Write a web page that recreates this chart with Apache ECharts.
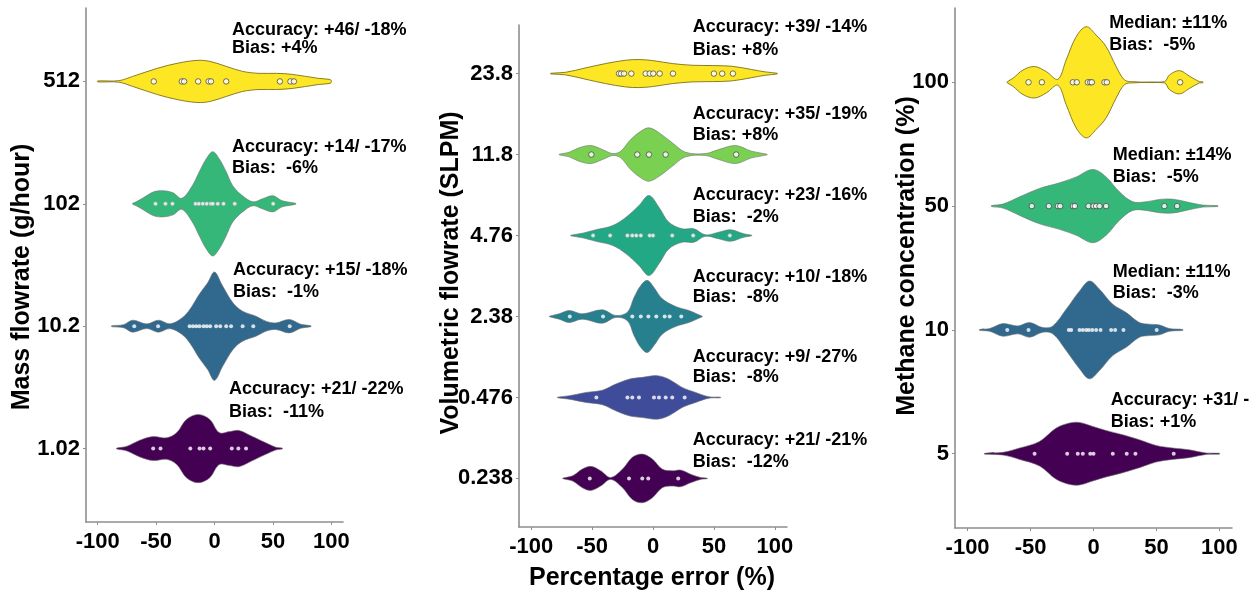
<!DOCTYPE html>
<html>
<head>
<meta charset="utf-8">
<script src="https://cdn.jsdelivr.net/npm/echarts@6/dist/echarts.min.js"></script>
<style>
html,body{margin:0;padding:0;background:#fff;}
#chart{width:1260px;height:598px;}
</style>
</head>
<body>
<div id="chart"></div>
<script>
// ---------------- DATA (index 0 = bottom category) ----------------
const xTicks = [-100, -50, 0, 50, 100];

const p1Categories = ['1.02', '10.2', '102', '512'];
const p2Categories = ['0.238', '0.476', '2.38', '4.76', '11.8', '23.8'];
const p3Categories = ['5', '10', '50', '100'];

// individual measurements (percentage error)
const p1Points = [
  [-52.5, -46.2, -20.7, -12.8, -9.4, -3.7, 14.8, 20.4, 27],
  [-68.7, -48.3, -21.3, -18.4, -15.6, -12.8, -9.4, -6.6, -3.7, 1.4, 4.9, 10, 14.2, 24.1, 33.2, 64.4],
  [-50.5, -42, -36, -16.2, -13.4, -10, -6.6, -3.1, -1.4, 2.8, 7.7, 17.3, 50.2],
  [-52, -28, -26, -14, -5, -3, 10, 56, 65, 68]
];
const p2Points = [
  [-51.9, -19.7, -8.8, -3.9, 20.7],
  [-46.5, -21, -17, -11.5, 0.8, 4.9, 10.4, 15.8, 26],
  [-68.3, -41, -17, -10, -3.8, 2.7, 9.6, 13.7, 23.2],
  [-49.2, -35.2, -21, -17, -13.7, -10, -2.7, 0, 15.8, 33, 63.1],
  [-50.6, -12.9, -3.3, 10.4, 68.3],
  [-27.9, -26.2, -23.8, -17.8, -6, -2.7, 0.2, 5.5, 16.4, 50, 56.8, 65.6]
];
const p3Points = [
  [-46.8, -20.9, -12.5, -8.5, -2.6, 0, 15.3, 26.4, 33.3, 63.7],
  [-68.5, -51.6, -19.6, -17.7, -11.1, -8.5, -5.8, -3.7, -1, 2.1, 5.6, 14, 17.2, 23.8, 50.2],
  [-49, -35.5, -28.3, -26.4, -16.4, -14.8, -4, 0, 2.1, 4.8, 10, 56.3, 66.4],
  [-51.6, -41, -16.4, -13.3, -4.5, -2.6, -1.3, 8.7, 10.6, 68.8]
];

// violin density profiles: [percentage error, half-width in category units]
const p1Density = [
  [[-83.7,0.004],[-75,0.019],[-64,0.068],[-52.5,0.098],[-41,0.088],[-32.5,0.129],[-24,0.238],[-14,0.279],[-4,0.238],[4,0.131],[13,0.139],[21,0.148],[32.6,0.098],[44,0.047],[52.5,0.011],[58,0.004]],
  [[-88,0.004],[-78,0.012],[-70,0.049],[-58,0.019],[-48,0.049],[-38,0.02],[-28,0.066],[-21,0.139],[-13,0.262],[-6,0.352],[0,0.443],[7,0.328],[16,0.189],[24,0.123],[35.5,0.082],[44,0.041],[52.5,0.027],[64,0.055],[74,0.016],[82.5,0.004]],
  [[-70,0.004],[-67,0.016],[-61,0.049],[-52,0.098],[-44,0.107],[-35.5,0.09],[-28,0.045],[-19,0.148],[-13,0.262],[-7,0.369],[-1.5,0.426],[4,0.369],[10,0.262],[15.6,0.148],[24,0.066],[33,0.016],[41,0.041],[50,0.066],[58,0.025],[69.5,0.004]],
  [[-100,0.004],[-82,0.006],[-70,0.041],[-49,0.107],[-32,0.148],[-15,0.172],[-4,0.164],[10,0.123],[24,0.082],[38,0.066],[53,0.066],[67,0.057],[89,0.025],[99,0.016],[100,0.004]]
];
const p2Density = [
  [[-74,0.004],[-66,0.033],[-58,0.115],[-51,0.149],[-43,0.095],[-34.7,0.012],[-25,0.115],[-17,0.26],[-8.8,0.301],[-0.5,0.239],[7.6,0.115],[15.8,0.095],[22.7,0.103],[30.9,0.053],[39,0.012],[44.5,0.004]],
  [[-78.4,0.004],[-68.9,0.021],[-55,0.062],[-41.5,0.09],[-30.6,0.165],[-19.7,0.226],[-8.8,0.248],[3.5,0.269],[13,0.226],[24,0.124],[35,0.062],[46,0.009],[55.5,0.004]],
  [[-85,0.004],[-77,0.033],[-68.9,0.074],[-58,0.033],[-41.5,0.083],[-30.6,0.012],[-21,0.053],[-15.6,0.235],[-10,0.384],[-4.7,0.446],[0.8,0.359],[7.6,0.219],[18.6,0.124],[29.5,0.074],[37.7,0.021],[40.4,0.004]],
  [[-67.5,0.004],[-58,0.028],[-47,0.071],[-33,0.124],[-22.4,0.223],[-11.5,0.371],[-3.3,0.495],[5,0.347],[13,0.165],[24,0.083],[33.6,0.083],[43,0.009],[54,0.041],[63.7,0.071],[74.6,0.021],[81,0.004]],
  [[-77,0.004],[-68.9,0.028],[-60.7,0.083],[-51,0.111],[-41.5,0.062],[-33,0.012],[-26.5,0.041],[-18.3,0.186],[-10,0.288],[-3.3,0.33],[5,0.269],[15.8,0.145],[26.8,0.028],[43,0.012],[54,0.062],[67.8,0.111],[81,0.041],[93.7,0.004]],
  [[-84,0.004],[-71.6,0.016],[-55,0.071],[-38.8,0.124],[-22.4,0.165],[-11.5,0.173],[-0.5,0.161],[15.8,0.124],[32,0.103],[48.6,0.099],[65,0.09],[81,0.05],[92,0.021],[102,0.004]]
];
const p3Density = [
  [[-86.5,0.004],[-72,0.011],[-58.7,0.046],[-42.9,0.099],[-29.6,0.207],[-19,0.248],[-11,0.252],[-0.5,0.22],[10,0.188],[23.3,0.153],[36.5,0.113],[49.8,0.067],[63,0.046],[76,0.032],[89.4,0.006],[100,0.004]],
  [[-90.5,0.004],[-82.5,0.011],[-72,0.051],[-60,0.032],[-50.8,0.059],[-40.2,0.019],[-32.3,0.032],[-21.7,0.167],[-11,0.315],[-3.2,0.395],[4.8,0.328],[15.3,0.207],[26,0.14],[36.5,0.059],[44.4,0.046],[52.4,0.04],[60.3,0.011],[70.9,0.004]],
  [[-81,0.004],[-72,0.016],[-58.7,0.075],[-42.9,0.143],[-27,0.188],[-13.7,0.236],[-0.5,0.296],[10,0.236],[20.6,0.115],[31.2,0.035],[41.8,0.035],[52.4,0.054],[63,0.056],[73.5,0.035],[86.8,0.008],[98.7,0.004]],
  [[-68.5,0.004],[-64,0.032],[-56,0.099],[-46.8,0.127],[-37.5,0.086],[-28.3,0.024],[-21.7,0.18],[-13.7,0.369],[-5.8,0.449],[2.1,0.381],[10,0.288],[18,0.127],[24.6,0.019],[31.2,0.005],[56.3,0.005],[60.3,0.059],[68.3,0.094],[76,0.051],[84,0.005],[86.8,0.004]]
];

// annotation texts (top to bottom per panel)
const p1Notes = [
  ['Accuracy: +46/ -18%', 'Bias: +4%'],
  ['Accuracy: +14/ -17%', 'Bias:  -6%'],
  ['Accuracy: +15/ -18%', 'Bias:  -1%'],
  ['Accuracy: +21/ -22%', 'Bias:  -11%']
];
const p2Notes = [
  ['Accuracy: +39/ -14%', 'Bias: +8%'],
  ['Accuracy: +35/ -19%', 'Bias: +8%'],
  ['Accuracy: +23/ -16%', 'Bias:  -2%'],
  ['Accuracy: +10/ -18%', 'Bias:  -8%'],
  ['Accuracy: +9/ -27%', 'Bias:  -8%'],
  ['Accuracy: +21/ -21%', 'Bias:  -12%']
];
const p3Notes = [
  ['Median: \u00b111%', 'Bias:  -5%'],
  ['Median: \u00b114%', 'Bias:  -5%'],
  ['Median: \u00b111%', 'Bias:  -3%'],
  ['Accuracy: +31/ -', 'Bias: +1%']
];

const yTitles = ['Mass flowrate (g/hour)', 'Volumetric flowrate (SLPM)', 'Methane concentration (%)'];
const xTitle = 'Percentage error (%)';

// ---------------- LAYOUT & STYLE ----------------
const FONT = '"Liberation Sans", Arial, Helvetica, sans-serif';
const grids = [
  {left: 86, top: 8, width: 257, height: 514},
  {left: 519, top: 25, width: 268, height: 502},
  {left: 955, top: 8, width: 277, height: 520}
];
const fills = [
  ['#440154', '#31688e', '#35b779', '#fde725'],
  ['#440154', '#3e4c99', '#27808e', '#22a884', '#7ad151', '#fde725'],
  ['#440154', '#31688e', '#35b779', '#fde725']
];
// dot outline style per violin: 0 plain, 1 light ring, 2 dark ring
const dotStyles = [
  [0, 0, 1, 2],
  [0, 0, 0, 1, 2, 2],
  [0, 0, 2, 2]
];
// annotation layout: [x, yLine1, yLine2]
const noteLayout = [
  [[232, 30, 48.5], [232, 146.7, 168.3], [233, 270, 291.7], [229, 389.3, 411.7]],
  [[692.7, 27, 49.7], [692.7, 113.7, 135], [692.7, 195, 217], [692.7, 276.7, 297], [692.7, 356.7, 376.7], [692.7, 440, 461.7]],
  [[1109.3, 23.3, 45], [1112.7, 155, 176.7], [1112.7, 271.7, 293.3], [1110.7, 400, 421.7]]
];
const yTitlePos = [[22, 277], [451, 273], [907, 256]];

const panels = [
  {cats: p1Categories, pts: p1Points, dens: p1Density, notes: p1Notes},
  {cats: p2Categories, pts: p2Points, dens: p2Density, notes: p2Notes},
  {cats: p3Categories, pts: p3Points, dens: p3Density, notes: p3Notes}
];

const axisLineStyle = {color: '#8f8f8f', width: 1.6};
const xAxes = [], yAxes = [], series = [], graphics = [];

panels.forEach((p, pi) => {
  const n = p.cats.length;
  const idxs = p.cats.map((c, k) => k);
  xAxes.push({
    type: 'value', gridIndex: pi, min: -110, max: 110,
    axisLine: {show: true, onZero: false, lineStyle: axisLineStyle},
    axisTick: {show: true, customValues: xTicks, length: 3, lineStyle: {color: '#8f8f8f', width: 1}},
    axisLabel: {customValues: xTicks, fontSize: 22, fontWeight: 'bold', color: '#000', fontFamily: FONT, margin: 9},
    splitLine: {show: false}
  });
  yAxes.push({
    type: 'value', gridIndex: pi, min: -0.6, max: n - 1 + 0.6,
    axisLine: {show: true, onZero: false, lineStyle: axisLineStyle},
    axisTick: {show: true, customValues: idxs, length: 3, lineStyle: {color: '#8f8f8f', width: 1}},
    axisLabel: {customValues: idxs, fontSize: 22, fontWeight: 'bold', color: '#000', fontFamily: FONT, margin: 6,
      formatter: v => p.cats[Math.round(v)]},
    splitLine: {show: false}
  });

  series.push({
    type: 'custom', xAxisIndex: pi, yAxisIndex: pi, silent: true, clip: false,
    data: idxs.map(k => [0, k]),
    encode: {x: 0, y: 1},
    renderItem: function (params, api) {
      const k = api.value(1);
      const prof = p.dens[k];
      const top = prof.map(d => api.coord([d[0], k + d[1]]));
      const bot = prof.slice().reverse().map(d => api.coord([d[0], k - d[1]]));
      const fill = fills[pi][k];
      const isYellow = fill === '#fde725';
      return {
        type: 'polygon',
        shape: {points: top.concat(bot), smooth: 0.35},
        style: {fill: fill, stroke: isYellow ? '#7d7118' : '#6f6f6f', lineWidth: isYellow ? 0.9 : 0.6}
      };
    },
    z: 2
  });

  const dots = [];
  p.pts.forEach((arr, k) => {
    const st = dotStyles[pi][k];
    arr.forEach(v => {
      dots.push({
        value: [v, k],
        symbolSize: st === 2 ? 5.5 : 4,
        itemStyle: st === 2 ? {color: '#ffffff', borderColor: '#3a3a3a', borderWidth: 0.9}
          : st === 1 ? {color: '#ffffff', borderColor: '#9a9a9a', borderWidth: 0.6}
          : {color: '#ffffff', borderWidth: 0}
      });
    });
  });
  series.push({
    type: 'scatter', xAxisIndex: pi, yAxisIndex: pi, symbol: 'circle', silent: true,
    data: dots, z: 3
  });

  p.notes.forEach((lines, j) => {
    const lay = noteLayout[pi][j];
    graphics.push({type: 'text', x: lay[0], y: lay[1], style: {text: lines[0], font: 'bold 18px ' + FONT, fill: '#000', textVerticalAlign: 'middle'}});
    graphics.push({type: 'text', x: lay[0], y: lay[2], style: {text: lines[1], font: 'bold 18px ' + FONT, fill: '#000', textVerticalAlign: 'middle'}});
  });

  graphics.push({
    type: 'text', x: yTitlePos[pi][0], y: yTitlePos[pi][1], rotation: Math.PI / 2,
    style: {text: yTitles[pi], font: 'bold 25px ' + FONT, fill: '#000', textAlign: 'center', textVerticalAlign: 'middle'}
  });
});

graphics.push({
  type: 'text', x: 652, y: 578,
  style: {text: xTitle, font: 'bold 25px ' + FONT, fill: '#000', textAlign: 'center', textVerticalAlign: 'middle'}
});

const chart = echarts.init(document.getElementById('chart'), null, {renderer: 'canvas'});
chart.setOption({
  backgroundColor: '#ffffff',
  animation: false,
  grid: grids,
  xAxis: xAxes,
  yAxis: yAxes,
  series: series,
  graphic: graphics
});
</script>
</body>
</html>
